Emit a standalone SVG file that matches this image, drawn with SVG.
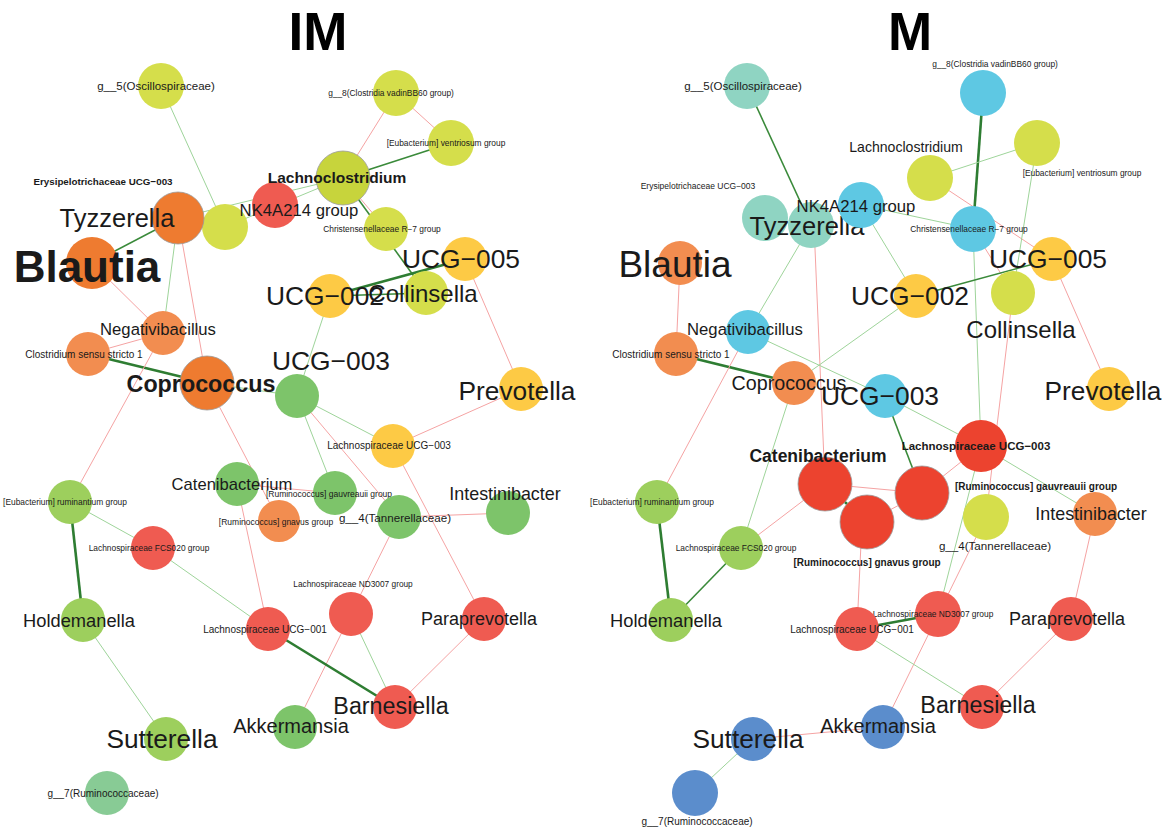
<svg xmlns="http://www.w3.org/2000/svg" width="1168" height="827" viewBox="0 0 1168 827">
<style>
text{font-family:"Liberation Sans",Arial,sans-serif;fill:#1a1a1a;text-anchor:middle}
.b{font-weight:bold}
.t{font-weight:bold;fill:#000}
.ep{stroke:#f5a3a3;stroke-width:1}
.eg{stroke:#9ed49a;stroke-width:1}
.ed{stroke:#2e7d32;stroke-width:2.6}
.em{stroke:#3a8a3a;stroke-width:1.6}
.o{stroke:#9a9a9a;stroke-width:0.8}
.or{fill:#ee7b30}.ol{fill:#f28d50}.yg{fill:#d5de4b}.yg2{fill:#c7d43c}.rd{fill:#ef5b51}.go{fill:#fdca45}
.gr{fill:#7dc46a}.lg{fill:#9dcf5d}.mg{fill:#88cb95}.tl{fill:#8fd4c2}.cy{fill:#5ec8e3}.sb{fill:#5b8dcc}.br{fill:#ec432f}
</style>
<rect width="1168" height="827" fill="#fff"/>
<text class="t" x="318" y="50" font-size="53">IM</text>
<text class="t" x="910" y="50" font-size="53">M</text>
<g id="connectors">
<!-- IM -->
<line class="eg" x1="161" y1="86" x2="225" y2="227"/>
<line class="em" x1="178" y1="218" x2="92" y2="263"/>
<line class="eg" x1="178" y1="218" x2="163" y2="333"/>
<line class="ep" x1="178" y1="218" x2="207" y2="383"/>
<line class="ep" x1="92" y1="263" x2="163" y2="333"/>
<line class="eg" x1="225" y1="227" x2="343" y2="178"/>
<line class="eg" x1="178" y1="218" x2="343" y2="178"/>
<line class="ep" x1="396" y1="93" x2="343" y2="178"/>
<line class="ep" x1="396" y1="93" x2="451" y2="143"/>
<line class="em" x1="343" y1="178" x2="451" y2="143"/>
<line class="ep" x1="343" y1="178" x2="386" y2="229"/>
<line class="em" x1="343" y1="178" x2="426" y2="293"/>
<line class="ed" x1="330" y1="296" x2="465" y2="259"/>
<line class="em" x1="330" y1="296" x2="426" y2="293"/>
<line class="ep" x1="465" y1="259" x2="521" y2="389"/>
<line class="eg" x1="330" y1="296" x2="297" y2="396"/>
<line class="ep" x1="163" y1="333" x2="88" y2="354"/>
<line class="ed" x1="88" y1="354" x2="207" y2="383"/>
<line class="ep" x1="163" y1="333" x2="70" y2="502"/>
<line class="eg" x1="207" y1="383" x2="297" y2="396"/>
<line class="ep" x1="207" y1="383" x2="279" y2="521"/>
<line class="eg" x1="297" y1="396" x2="393" y2="446"/>
<line class="ep" x1="297" y1="396" x2="399" y2="517"/>
<line class="eg" x1="297" y1="396" x2="335" y2="493"/>
<line class="ep" x1="393" y1="446" x2="521" y2="389"/>
<line class="ep" x1="393" y1="446" x2="484" y2="619"/>
<line class="ep" x1="399" y1="517" x2="508" y2="513"/>
<line class="ep" x1="335" y1="493" x2="237" y2="484"/>
<line class="ep" x1="399" y1="517" x2="295" y2="727"/>
<line class="eg" x1="351" y1="614" x2="395" y2="707"/>
<line class="ed" x1="268" y1="629" x2="395" y2="707"/>
<line class="ep" x1="484" y1="619" x2="395" y2="707"/>
<line class="ed" x1="70" y1="502" x2="83" y2="620"/>
<line class="eg" x1="70" y1="502" x2="153" y2="548"/>
<line class="eg" x1="153" y1="548" x2="268" y2="629"/>
<line class="eg" x1="83" y1="620" x2="166" y2="739"/>
<line class="ep" x1="237" y1="484" x2="268" y2="629"/>
<!-- M -->
<line class="em" x1="747" y1="86" x2="811" y2="225"/>
<line class="eg" x1="811" y1="225" x2="748" y2="332"/>
<line class="ep" x1="814" y1="225" x2="825" y2="484"/>
<line class="ep" x1="680" y1="263" x2="676" y2="354"/>
<line class="eg" x1="861" y1="205" x2="916" y2="296"/>
<line class="eg" x1="861" y1="205" x2="973" y2="229"/>
<line class="ed" x1="983" y1="93" x2="973" y2="229"/>
<line class="eg" x1="930" y1="178" x2="1037" y2="143"/>
<line class="ep" x1="930" y1="178" x2="1052" y2="259"/>
<line class="eg" x1="1037" y1="143" x2="1013" y2="293"/>
<line class="eg" x1="973" y1="229" x2="981" y2="446"/>
<line class="ep" x1="973" y1="229" x2="1013" y2="293"/>
<line class="em" x1="916" y1="296" x2="1052" y2="259"/>
<line class="ep" x1="1052" y1="259" x2="1109" y2="389"/>
<line class="eg" x1="916" y1="296" x2="794" y2="383"/>
<line class="ep" x1="1013" y1="293" x2="986" y2="517"/>
<line class="eg" x1="748" y1="332" x2="885" y2="396"/>
<line class="ed" x1="676" y1="354" x2="794" y2="383"/>
<line class="ep" x1="748" y1="332" x2="657" y2="502"/>
<line class="eg" x1="794" y1="383" x2="741" y2="548"/>
<line class="ep" x1="741" y1="548" x2="825" y2="484"/>
<line class="ed" x1="825" y1="484" x2="867" y2="522"/>
<line class="ed" x1="657" y1="502" x2="671" y2="620"/>
<line class="em" x1="741" y1="548" x2="671" y2="620"/>
<line class="eg" x1="885" y1="396" x2="981" y2="446"/>
<line class="em" x1="885" y1="396" x2="922" y2="493"/>
<line class="ep" x1="981" y1="446" x2="922" y2="493"/>
<line class="eg" x1="981" y1="446" x2="1095" y2="514"/>
<line class="eg" x1="981" y1="446" x2="938" y2="614"/>
<line class="ep" x1="986" y1="517" x2="883" y2="727"/>
<line class="ep" x1="1095" y1="514" x2="1071" y2="619"/>
<line class="ep" x1="825" y1="484" x2="922" y2="493"/>
<line class="ep" x1="867" y1="522" x2="922" y2="493"/>
<line class="ep" x1="862" y1="522" x2="857" y2="629"/>
<line class="ed" x1="857" y1="629" x2="938" y2="614"/>
<line class="eg" x1="857" y1="629" x2="982" y2="707"/>
<line class="ep" x1="1071" y1="619" x2="982" y2="707"/>
<line class="ep" x1="753" y1="739" x2="883" y2="727"/>
<line class="eg" x1="753" y1="739" x2="695" y2="793"/>
</g>
<!-- IM nodes -->
<g id="im-g5"><circle class="yg" cx="161" cy="86" r="23"/><text x="156" y="90" font-size="11.5">g__5(Oscillospiraceae)</text></g>
<g id="im-erysipelotrichaceae"><text class="b" x="103" y="185" font-size="9.8">Erysipelotrichaceae UCG−003</text></g>
<g id="im-unlabeled"><circle class="yg" cx="225" cy="227" r="23"/></g>
<g id="im-tyzzerella"><circle class="or o" cx="178" cy="218" r="26"/><text x="117" y="227" font-size="25.5">Tyzzerella</text></g>
<g id="im-nk4a214"><circle class="rd" cx="275" cy="205" r="23"/><text x="299" y="216" font-size="16.7">NK4A214 group</text></g>
<g id="im-blautia"><circle class="or" cx="92" cy="263" r="26"/><text class="b" x="87" y="282" font-size="44">Blautia</text></g>
<g id="im-g8"><circle class="yg" cx="396" cy="93" r="23"/><text x="391" y="96" font-size="8.4">g__8(Clostridia vadinBB60 group)</text></g>
<g id="im-ventriosum"><circle class="yg" cx="451" cy="143" r="23"/><text x="446" y="146" font-size="8.4">[Eubacterium] ventriosum group</text></g>
<g id="im-lachnoclostridium"><circle class="yg2 o" cx="343" cy="178" r="27"/><text class="b" x="337" y="183" font-size="15.5">Lachnoclostridium</text></g>
<g id="im-christensenellaceae"><circle class="yg" cx="386" cy="229" r="22"/><text x="382" y="232" font-size="8.4">Christensenellaceae R−7 group</text></g>
<g id="im-ucg005"><circle class="go" cx="465" cy="259" r="22"/><text x="461" y="268" font-size="26.4">UCG−005</text></g>
<g id="im-collinsella"><circle class="yg" cx="426" cy="293" r="22"/><text x="423" y="302" font-size="24">Collinsella</text></g>
<g id="im-ucg002"><circle class="go" cx="330" cy="296" r="22"/><text x="325" y="305" font-size="26.4">UCG−002</text></g>
<g id="im-negativibacillus"><circle class="ol" cx="163" cy="333" r="22"/><text x="158" y="335" font-size="16.7">Negativibacillus</text></g>
<g id="im-clostridium"><circle class="ol" cx="88" cy="354" r="22"/><text x="84" y="358" font-size="10">Clostridium sensu stricto 1</text></g>
<g id="im-coprococcus"><circle class="or o" cx="207" cy="383" r="27"/><text class="b" x="201" y="392" font-size="23.3">Coprococcus</text></g>
<g id="im-ucg003"><circle class="gr" cx="297" cy="396" r="22"/><text x="331" y="370" font-size="26.4">UCG−003</text></g>
<g id="im-prevotella"><circle class="go" cx="521" cy="389" r="22"/><text x="517" y="400" font-size="26.3">Prevotella</text></g>
<g id="im-lachnospiraceae-ucg003"><circle class="go" cx="393" cy="446" r="22"/><text x="389" y="449" font-size="10">Lachnospiraceae UCG−003</text></g>
<g id="im-catenibacterium"><circle class="gr" cx="237" cy="484" r="22"/><text x="232" y="490" font-size="16.6">Catenibacterium</text></g>
<g id="im-gauvreauii"><circle class="gr" cx="335" cy="493" r="22"/><text x="329" y="497" font-size="8.5">[Ruminococcus] gauvreauii group</text></g>
<g id="im-ruminantium"><circle class="lg" cx="70" cy="502" r="22"/><text x="65" y="505" font-size="8.4">[Eubacterium] ruminantium group</text></g>
<g id="im-gnavus"><circle class="ol" cx="279" cy="521" r="21"/><text x="276" y="525" font-size="8.5">[Ruminococcus] gnavus group</text></g>
<g id="im-g4"><circle class="gr" cx="399" cy="517" r="22"/><text x="395" y="522" font-size="11.6">g__4(Tannerellaceae)</text></g>
<g id="im-intestinibacter"><circle class="gr" cx="508" cy="513" r="22"/><text x="505" y="500" font-size="17.9">Intestinibacter</text></g>
<g id="im-fcs020"><circle class="rd" cx="153" cy="548" r="22"/><text x="149" y="551" font-size="8.4">Lachnospiraceae FCS020 group</text></g>
<g id="im-nd3007"><circle class="rd" cx="351" cy="614" r="22"/><text x="353" y="587" font-size="8.3">Lachnospiraceae ND3007 group</text></g>
<g id="im-holdemanella"><circle class="lg" cx="83" cy="620" r="22"/><text x="79" y="627" font-size="18.3">Holdemanella</text></g>
<g id="im-ucg001"><circle class="rd" cx="268" cy="629" r="22"/><text x="265" y="633" font-size="10">Lachnospiraceae UCG−001</text></g>
<g id="im-paraprevotella"><circle class="rd" cx="484" cy="619" r="22"/><text x="479" y="625" font-size="18">Paraprevotella</text></g>
<g id="im-barnesiella"><circle class="rd" cx="395" cy="707" r="22"/><text x="391" y="714" font-size="23.3">Barnesiella</text></g>
<g id="im-akkermansia"><circle class="gr" cx="295" cy="727" r="22"/><text x="291" y="733" font-size="20">Akkermansia</text></g>
<g id="im-sutterella"><circle class="lg" cx="166" cy="739" r="22"/><text x="162" y="748" font-size="26.3">Sutterella</text></g>
<g id="im-g7"><circle class="mg" cx="107" cy="793" r="22"/><text x="103" y="797" font-size="10">g__7(Ruminococcaceae)</text></g>
<!-- M nodes -->
<g id="m-g5"><circle class="tl" cx="747" cy="86" r="23"/><text x="743" y="90" font-size="11.5">g__5(Oscillospiraceae)</text></g>
<g id="m-erysipelotrichaceae"><circle class="tl" cx="765" cy="218" r="23"/><text x="698" y="189" font-size="8.5">Erysipelotrichaceae UCG−003</text></g>
<g id="m-tyzzerella"><circle class="tl" cx="811" cy="225" r="23"/><text x="807" y="235" font-size="25.5">Tyzzerella</text></g>
<g id="m-nk4a214"><circle class="cy" cx="861" cy="205" r="23"/><text x="856" y="212" font-size="16.7">NK4A214 group</text></g>
<g id="m-blautia"><circle class="ol" cx="680" cy="263" r="22"/><text x="675" y="277" font-size="37">Blautia</text></g>
<g id="m-g8"><circle class="cy" cx="983" cy="93" r="23"/><text x="995" y="67" font-size="8.4">g__8(Clostridia vadinBB60 group)</text></g>
<g id="m-lachnoclostridium"><circle class="yg" cx="930" cy="178" r="23"/><text x="906" y="152" font-size="14.1">Lachnoclostridium</text></g>
<g id="m-ventriosum"><circle class="yg" cx="1037" cy="143" r="23"/><text x="1082" y="176" font-size="8.4">[Eubacterium] ventriosum group</text></g>
<g id="m-christensenellaceae"><circle class="cy" cx="973" cy="229" r="23"/><text x="969" y="232" font-size="8.4">Christensenellaceae R−7 group</text></g>
<g id="m-ucg005"><circle class="go" cx="1052" cy="259" r="22"/><text x="1048" y="268" font-size="26.4">UCG−005</text></g>
<g id="m-collinsella"><circle class="yg" cx="1013" cy="293" r="22"/><text x="1021" y="338" font-size="24">Collinsella</text></g>
<g id="m-ucg002"><circle class="go" cx="916" cy="296" r="22"/><text x="910" y="305" font-size="26.4">UCG−002</text></g>
<g id="m-negativibacillus"><circle class="cy" cx="748" cy="332" r="22"/><text x="745" y="335" font-size="16.7">Negativibacillus</text></g>
<g id="m-clostridium"><circle class="ol" cx="676" cy="354" r="22"/><text x="671" y="358" font-size="10">Clostridium sensu stricto 1</text></g>
<g id="m-coprococcus"><circle class="ol" cx="794" cy="383" r="22"/><text x="789" y="390" font-size="19.7">Coprococcus</text></g>
<g id="m-ucg003"><circle class="cy" cx="885" cy="396" r="22"/><text x="880" y="405" font-size="26.4">UCG−003</text></g>
<g id="m-prevotella"><circle class="go" cx="1109" cy="389" r="22"/><text x="1103" y="400" font-size="26.3">Prevotella</text></g>
<g id="m-lachnospiraceae-ucg003"><circle class="br" cx="981" cy="446" r="26"/><text class="b" x="976" y="450" font-size="11.5">Lachnospiraceae UCG−003</text></g>
<g id="m-catenibacterium"><circle class="br o" cx="825" cy="484" r="27"/><text class="b" x="818" y="462" font-size="17.5">Catenibacterium</text></g>
<g id="m-gauvreauii"><circle class="br o" cx="922" cy="493" r="27"/><text class="b" x="1036" y="490" font-size="10">[Ruminococcus] gauvreauii group</text></g>
<g id="m-gnavus"><circle class="br o" cx="867" cy="522" r="27"/><text class="b" x="867" y="566" font-size="10">[Ruminococcus] gnavus group</text></g>
<g id="m-ruminantium"><circle class="lg" cx="657" cy="502" r="22"/><text x="652" y="505" font-size="8.4">[Eubacterium] ruminantium group</text></g>
<g id="m-g4"><circle class="yg" cx="986" cy="517" r="23"/><text x="995" y="550" font-size="11.6">g__4(Tannerellaceae)</text></g>
<g id="m-intestinibacter"><circle class="ol" cx="1095" cy="514" r="22"/><text x="1091" y="520" font-size="17.9">Intestinibacter</text></g>
<g id="m-fcs020"><circle class="lg" cx="741" cy="548" r="22"/><text x="736" y="551" font-size="8.4">Lachnospiraceae FCS020 group</text></g>
<g id="m-nd3007"><circle class="rd" cx="938" cy="614" r="23"/><text x="933" y="617" font-size="8.4">Lachnospiraceae ND3007 group</text></g>
<g id="m-holdemanella"><circle class="lg" cx="671" cy="620" r="22"/><text x="666" y="627" font-size="18.3">Holdemanella</text></g>
<g id="m-ucg001"><circle class="rd" cx="857" cy="629" r="22"/><text x="852" y="633" font-size="10">Lachnospiraceae UCG−001</text></g>
<g id="m-paraprevotella"><circle class="rd" cx="1071" cy="619" r="22"/><text x="1067" y="625" font-size="18">Paraprevotella</text></g>
<g id="m-barnesiella"><circle class="rd" cx="982" cy="707" r="22"/><text x="978" y="713" font-size="23.3">Barnesiella</text></g>
<g id="m-akkermansia"><circle class="sb" cx="883" cy="727" r="22"/><text x="878" y="733" font-size="20">Akkermansia</text></g>
<g id="m-sutterella"><circle class="sb" cx="753" cy="739" r="22"/><text x="748" y="748" font-size="26.3">Sutterella</text></g>
<g id="m-g7"><circle class="sb" cx="695" cy="793" r="23"/><text x="697" y="825" font-size="10">g__7(Ruminococcaceae)</text></g>
</svg>
